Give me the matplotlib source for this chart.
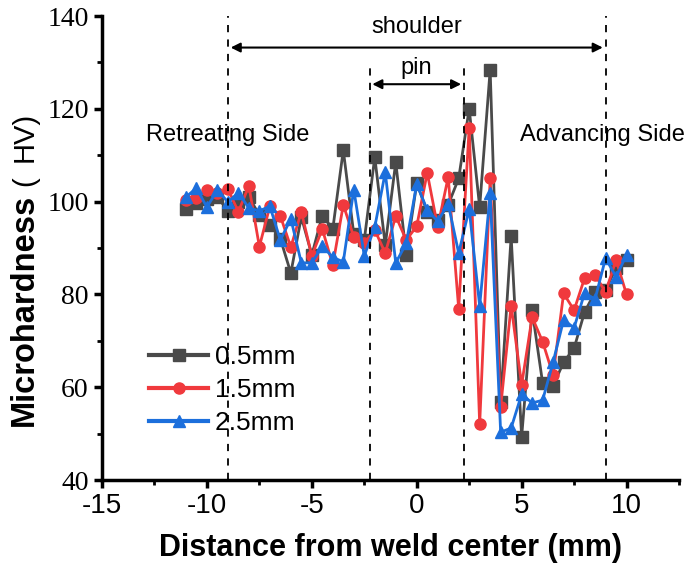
import matplotlib.pyplot as plt
import numpy as np
from matplotlib.ticker import MultipleLocator

plt.rcParams['axes.unicode_minus'] = False

# distance from weld center (mm)
dist = np.arange(-11, 10.01, 0.5)

hv_05 = [98.4, 99.7, 100.5, 101, 98, 99.9, 101, 97.1, 95, 92, 84.6, 96.7, 88.5, 97, 94.1,
         111.1, 93, 91.7, 109.6, 90.6, 108.5, 88.5, 104, 97.8, 96, 99.3, 105, 120, 98.8,
         128.4, 56.8, 92.5, 49.3, 76.6, 60.9, 60.3, 65.4, 68.4, 76.2, 80.5, 81, 85.7, 87.4]
hv_15 = [100.3, 100.8, 102.5, 101.9, 102.7, 97.8, 103.4, 90.3, 99, 96.9, 90.2, 97.8, 88.3,
         94.1, 86.3, 99.3, 92.4, 91, 93.9, 88.9, 96.9, 91.7, 94.7, 106.2, 94.5, 105.3, 76.9,
         115.9, 52, 105, 55.7, 77.6, 60.5, 75.1, 69.8, 62.6, 80.2, 76.6, 83.5, 84.2, 80.5,
         87.4, 80]
hv_25 = [101, 102.9, 98.8, 102.5, 99.9, 101.9, 98.6, 98, 99, 91.7, 96.3, 86.8, 86.8, 90.4,
         88, 87, 102.6, 88.3, 94.5, 106.3, 86.8, 91, 103.8, 98.2, 95.8, 99.5, 88.9, 98.4,
         77.5, 101.8, 50.3, 51.2, 58.5, 56.6, 57.2, 65.4, 74.5, 72.8, 80.3, 79, 87.8, 83.8,
         88.5]

labels = ['0.5mm', '1.5mm', '2.5mm']
colors = ['#4a4a4a', '#f0393d', '#1c6fdc']
markers = ['s', 'o', '^']

shoulder_x = [-9, 9]
pin_x = [-2.25, 2.25]

fig = plt.figure(figsize=(6.88, 5.71), dpi=100)
ax = fig.add_axes([102 / 688, 91 / 571, 577 / 688, 464 / 571])

for y, lab, c, m in zip([hv_05, hv_15, hv_25], labels, colors, markers):
    ax.plot(dist, y, color=c, marker=m, markersize=8, linewidth=2, label=lab)

# dashed guide lines
for xv in shoulder_x:
    ax.plot([xv, xv], [40, 140], ls=(0, (4, 4)), color='black', lw=1.3)
for xv in pin_x:
    ax.plot([xv, xv], [40, 130], ls=(0, (4, 4)), color='black', lw=1.3)

ax.annotate('', xy=(shoulder_x[0], 133.2), xytext=(shoulder_x[1], 133.2),
            arrowprops=dict(arrowstyle='<|-|>', color='black', lw=1.5, mutation_scale=14))
ax.text(0, 137.6, 'shoulder', ha='center', va='center', fontsize=17, family='Liberation Sans')
ax.annotate('', xy=(pin_x[0], 125.3), xytext=(pin_x[1], 125.3),
            arrowprops=dict(arrowstyle='<|-|>', color='black', lw=1.5, mutation_scale=14))
ax.text(0, 128.8, 'pin', ha='center', va='center', fontsize=17, family='Liberation Sans')

ax.text(-12.9, 114.4, 'Retreating Side', ha='left', va='center', fontsize=17,
        family='Liberation Sans')
ax.text(4.9, 114.4, 'Advancing Side', ha='left', va='center', fontsize=17,
        family='Liberation Sans', clip_on=False)

ax.set_xlim(-15, 12.5)
ax.set_ylim(40, 140)
ax.xaxis.set_major_locator(MultipleLocator(5))
ax.xaxis.set_minor_locator(MultipleLocator(2.5))
ax.yaxis.set_major_locator(MultipleLocator(20))
ax.yaxis.set_minor_locator(MultipleLocator(10))

for s in ['top', 'right']:
    ax.spines[s].set_visible(False)
for s in ['left', 'bottom']:
    ax.spines[s].set_linewidth(2.5)
ax.tick_params(which='major', direction='out', length=6, width=2.5)
ax.tick_params(which='minor', direction='out', length=3.5, width=2)

for t in ax.get_xticklabels():
    t.set_family('Liberation Sans')
    t.set_fontsize(20)
for t in ax.get_yticklabels():
    t.set_family('Liberation Serif')
    t.set_fontsize(20)

ax.set_xlabel('Distance from weld center (mm)', fontsize=22, fontweight='bold',
              family='Liberation Sans', labelpad=10)
# y label: bold word, regular unit with a wide opening bracket
fig.text(24 / 688, 1 - 426 / 571, 'Microhardness', rotation=90, ha='center', va='bottom',
         fontsize=23.5, fontweight='bold', family='Liberation Sans')
fig.text(25 / 688, 1 - 186 / 571, '(', rotation=90, ha='center', va='bottom',
         fontsize=21, family='Liberation Sans')
fig.text(25 / 688, 1 - 162 / 571, 'HV)', rotation=90, ha='center', va='bottom',
         fontsize=21, family='Liberation Sans')

ax.legend(loc='center left', bbox_to_anchor=(0.064, 0.194), frameon=False,
          handlelength=2.2, handletextpad=0.27, labelspacing=0.35, borderaxespad=0,
          prop={'family': 'Liberation Sans', 'size': 19})
for ln in ax.get_legend().get_lines():
    ln.set_linewidth(3)

fig.savefig('out.png', dpi=100)
